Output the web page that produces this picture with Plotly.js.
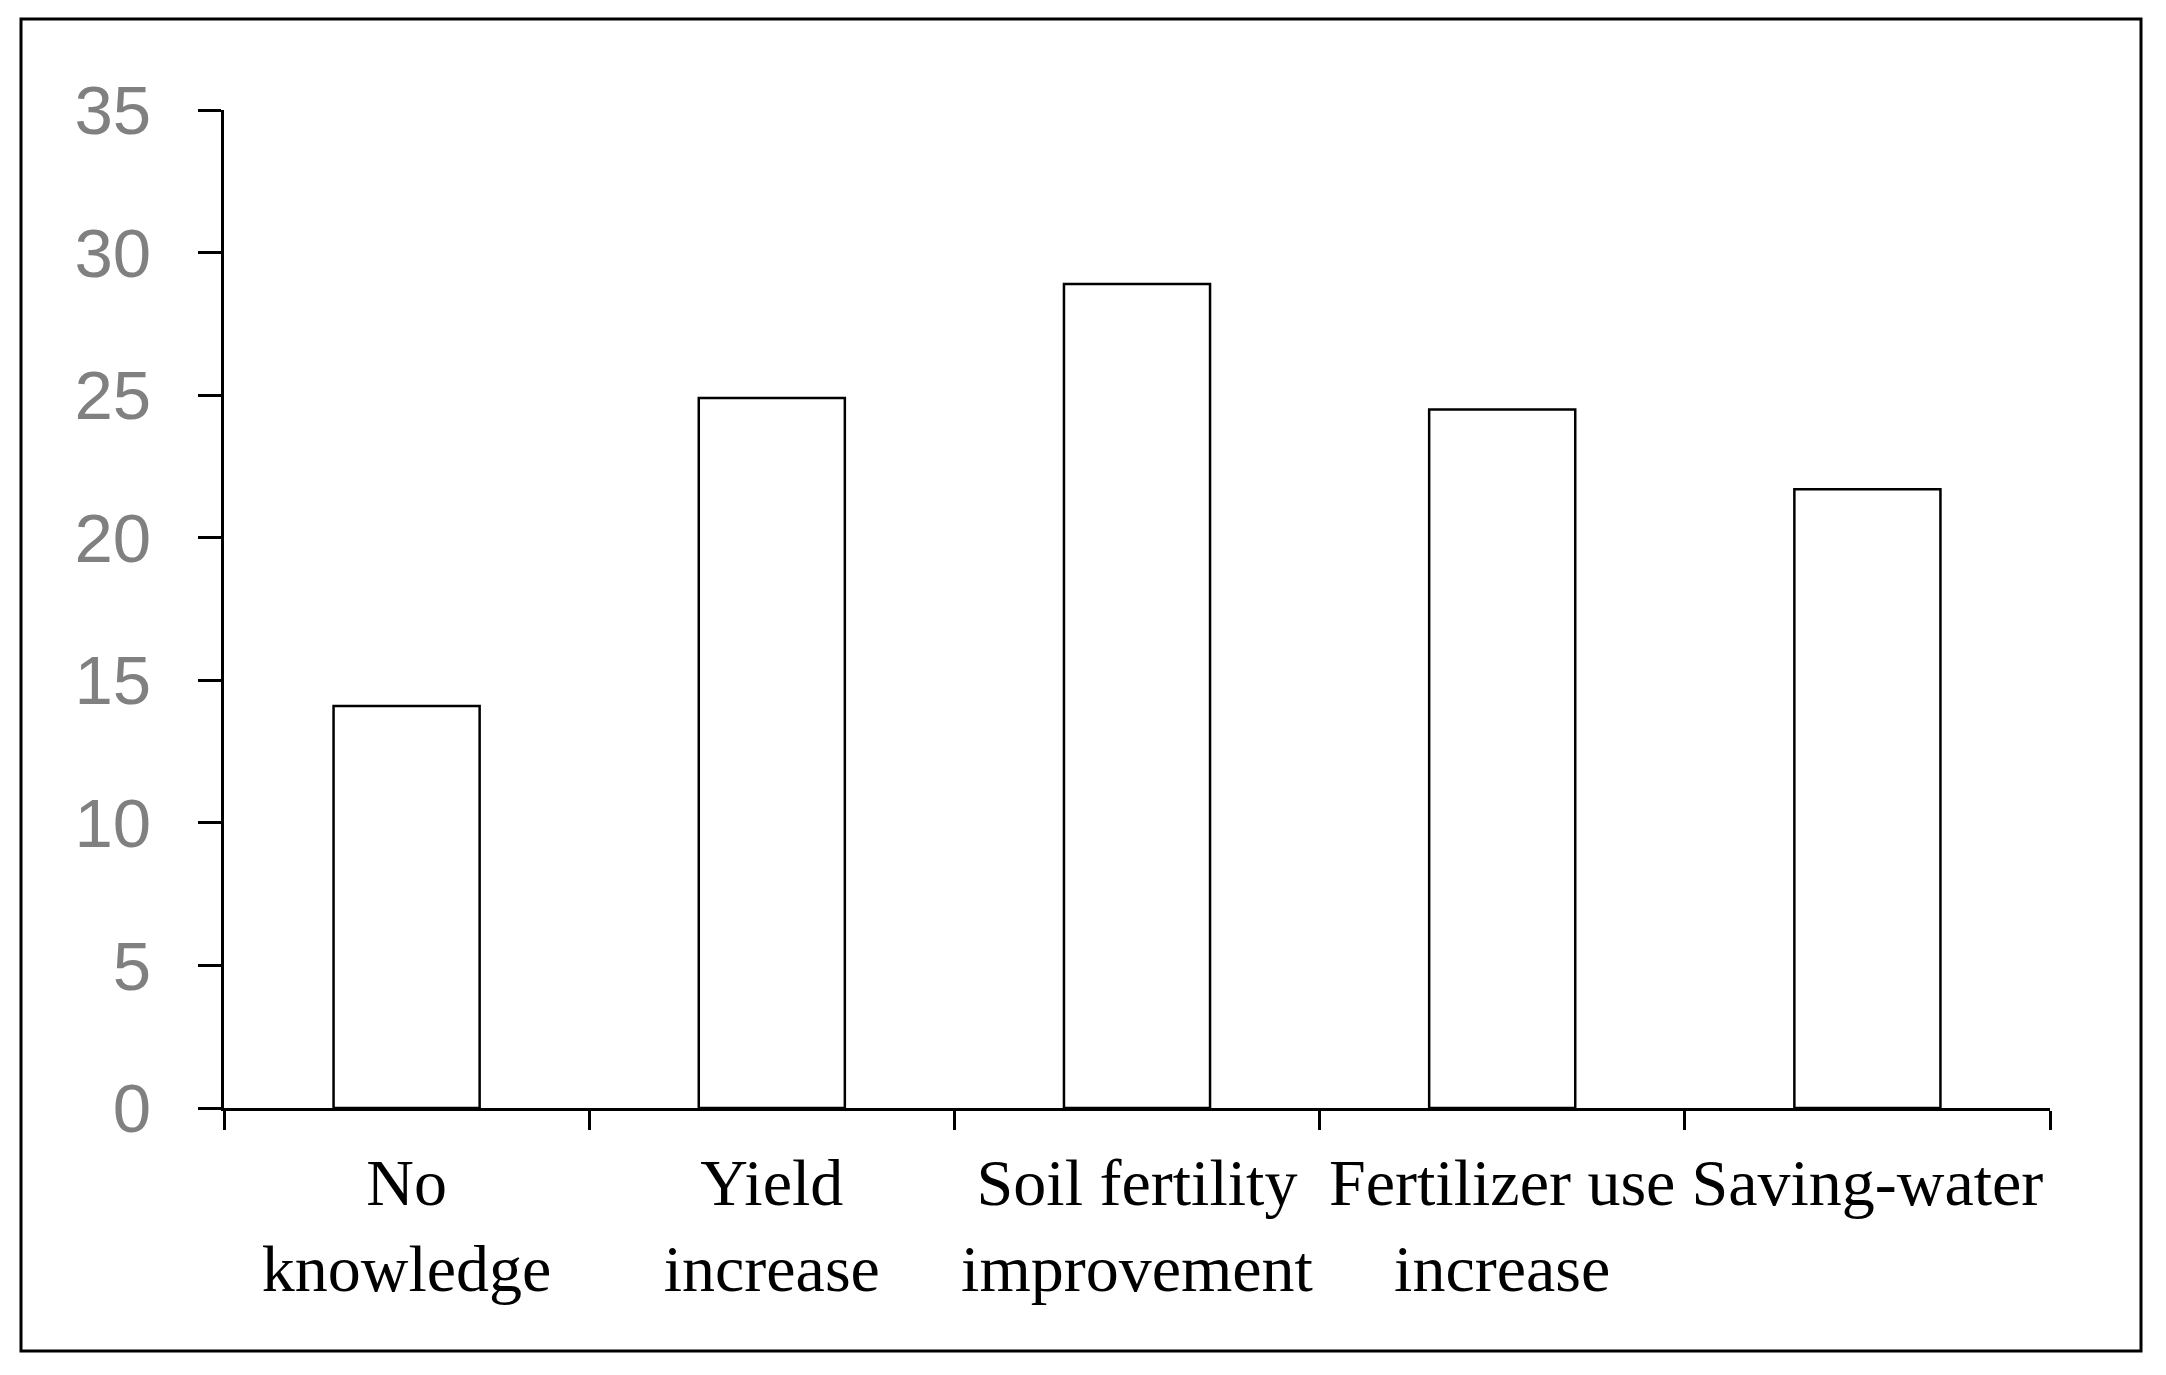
<!DOCTYPE html>
<html>
<head>
<meta charset="utf-8">
<script src="https://cdn.plot.ly/plotly-3.0.1.min.js"></script>
<style>
  html, body { margin: 0; padding: 0; background: #fff; }
  #chart { width: 2166px; height: 1375px; }
</style>
</head>
<body>
<div id="chart"></div>
<script>
const categories = ["No<br>knowledge", "Yield<br>increase", "Soil fertility<br>improvement", "Fertilizer use<br>increase", "Saving-water"];
const values = [14.1, 24.9, 28.9, 24.5, 21.7];
const yTicks = [0, 5, 10, 15, 20, 25, 30, 35];

const W = 2166, H = 1375;
const margin = { l: 224, r: 116, t: 110, b: 267, pad: 0 };
const pw = W - margin.l - margin.r, ph = H - margin.t - margin.b;
// outer frame in pixel coords converted to paper coords
const fx0 = (21 - margin.l) / pw, fx1 = (2141 - margin.l) / pw;
const fy0 = (H - margin.b - 1351) / ph, fy1 = (H - margin.b - 19) / ph;

const trace = {
  type: "bar",
  x: categories,
  y: values,
  width: 0.4,
  marker: { color: "#ffffff", line: { color: "#000000", width: 2.5 } },
  hoverinfo: "skip"
};

const layout = {
  width: W,
  height: H,
  margin: margin,
  paper_bgcolor: "#ffffff",
  plot_bgcolor: "#ffffff",
  showlegend: false,
  bargap: 0.6,
  xaxis: {
    type: "category",
    showline: true,
    linecolor: "#000000",
    linewidth: 3,
    showgrid: false,
    zeroline: false,
    ticks: "outside",
    tickson: "boundaries",
    ticklen: 19,
    tickwidth: 3,
    tickcolor: "#000000",
    ticklabelstandoff: 15,
    tickfont: { family: "Liberation Serif, Times New Roman, serif", size: 66, color: "#000000" },
    range: [-0.5, 4.5],
    fixedrange: true
  },
  yaxis: {
    range: [0, 35],
    tickvals: yTicks,
    ticktext: yTicks.map(String),
    showline: true,
    linecolor: "#000000",
    linewidth: 3,
    showgrid: false,
    zeroline: false,
    ticks: "outside",
    ticklen: 23,
    tickwidth: 3,
    tickcolor: "#000000",
    ticklabelstandoff: 33,
    tickfont: { family: "Liberation Sans, Arial, sans-serif", size: 69, color: "#808080" },
    fixedrange: true
  },
  shapes: [{
    type: "rect",
    xref: "paper", yref: "paper",
    x0: fx0, x1: fx1, y0: fy0, y1: fy1,
    line: { color: "#000000", width: 3 },
    fillcolor: "rgba(0,0,0,0)",
    layer: "below"
  }]
};

Plotly.newPlot("chart", [trace], layout, { displayModeBar: false, staticPlot: true });
</script>
</body>
</html>
